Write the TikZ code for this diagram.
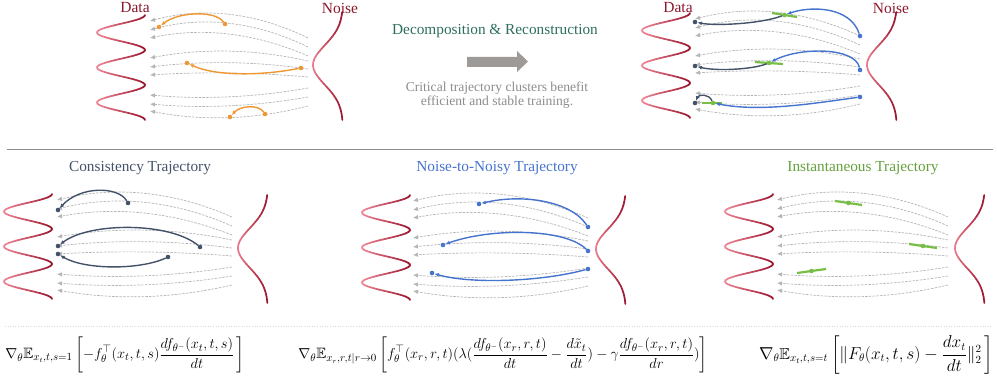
\documentclass[tikz,border=0pt]{standalone}
\usepackage{amsmath,amssymb}
\usepackage[no-math]{fontspec}
\setmainfont{Liberation Serif}
\usetikzlibrary{positioning,arrows.meta,calc}

\definecolor{wavedark}{RGB}{155,20,45}
\definecolor{wavelight}{RGB}{240,135,150}
\definecolor{datared}{RGB}{140,25,45}
\definecolor{orangetr}{RGB}{240,150,50}
\definecolor{slatetr}{RGB}{68,82,105}
\definecolor{bluetr}{RGB}{70,115,205}
\definecolor{greentr}{RGB}{120,190,70}
\definecolor{greentitle}{RGB}{100,160,60}
\definecolor{tealtitle}{RGB}{45,110,95}
\definecolor{flowgray}{RGB}{180,180,180}
\definecolor{arrowgray}{RGB}{158,154,152}

\tikzset{
  wave/.style={line width=1.7pt, line cap=round},
  flow/.style={flowgray, line width=0.7pt, dash pattern=on 2.5pt off 1.2pt, -{Latex[length=5pt,width=4.5pt]}},
  traj/.style={line width=1.4pt, -{Latex[length=4.5pt,width=4pt]}},
  gseg/.style={greentr, line width=2.2pt},
  dot/.style={circle, fill=#1, inner sep=0pt, minimum size=4.6pt},
  lab/.style={datared, font=\fontsize{15.5}{18}\selectfont},
  head/.style={font=\fontsize{15.3}{18}\selectfont},
  note/.style={black!45, align=center, font=\fontsize{13.6}{14}\selectfont},
  formula/.style={font=\fontsize{15}{17}\selectfont}
}

% data wave: #1 left x, #2 top y
\newcommand{\datawave}[2]{%
  \foreach \ta in {0,12,...,1068}{%
    \pgfmathsetmacro{\tb}{\ta+12}%
    \pgfmathtruncatemacro{\pc}{50+50*cos(\ta+6)}%
    \draw[wave, wavedark!\pc!wavelight] ({#1+24+24*cos(\ta)},{#2+\ta/1080*105}) -- ({#1+24+24*cos(\tb)},{#2+\tb/1080*105});
  }}

% noise bump: #1 right x, #2 top y
\newcommand{\noisebump}[2]{%
  \foreach \ta in {0,3,...,105}{%
    \pgfmathsetmacro{\tb}{\ta+3}%
    \pgfmathtruncatemacro{\pc}{100-90*exp(0-((\ta+1.5-53)/28)^2)}%
    \draw[wave, wavedark!\pc!wavelight] ({#1-30*exp(0-((\ta-53)/28)^2)},{#2+\ta}) -- ({#1-30*exp(0-((\tb-53)/28)^2)},{#2+\tb});
  }}

% gray flows: #1 left x, #2 top y, #3 width
\newcommand{\grayflows}[3]{%
  \foreach \yl/\yr/\hh in {6/23/20, 15/32/20, 23/41/17, 43/46/11, 52/54/7, 60/62/4, 80/73/-7, 89/82/-7, 96/91/-12}{%
    \draw[flow] ({#1+#3},{#2+\yr}) .. controls ({#1+2*#3/3},{#2+\yl+2*(\yr-\yl)/3-(\hh)}) and ({#1+#3/3},{#2+\yl+(\yr-\yl)/3-(\hh)}) .. ({#1},{#2+\yl});
  }}

\begin{document}
\begin{tikzpicture}[x=1pt, y=-1pt]
\useasboundingbox (0,0) rectangle (997,385);

% panels
\datawave{97}{15}   \grayflows{150}{15}{158} \noisebump{343}{12}
\datawave{642}{13}  \grayflows{695}{13}{165} \noisebump{897}{12}
\datawave{4}{194}   \grayflows{57}{194}{175} \noisebump{268}{195}
\datawave{362}{195} \grayflows{413}{195}{175} \noisebump{626}{196}
\datawave{725}{194} \grayflows{777}{194}{171} \noisebump{985}{195}

% labels
\node[lab] (dataL) at (135,8) {Data};
\node[lab] (noiseL) at (340,8) {Noise};
\node[lab] (dataR) at (678,8) {Data};
\node[lab] (noiseR) at (891,8) {Noise};
\node[head, tealtitle] (decomp) at (495,31) {Decomposition \& Reconstruction};
\fill[arrowgray] (467,57) -- (517,57) -- (517,51) -- (528,61.5) -- (517,72) -- (517,67) -- (467,67) -- cycle;
\node[note] (critical) at (497,95) {Critical trajectory clusters benefit\\efficient and stable training.};

% separators
\draw[black!45, line width=1.2pt] (7,149.5) -- (993,149.5);
\draw[black!15, line width=0.6pt, dotted] (5,326) -- (992,326);

% top left: orange clusters
\node[dot=orangetr] (o1s) at (225,24) {};
\node[dot=orangetr] (o1e) at (159,27) {};
\node[dot=orangetr] (o2s) at (301,68) {};
\node[dot=orangetr] (o2e) at (187,63) {};
\node[dot=orangetr] (o3s) at (265,114) {};
\node[dot=orangetr] (o3e) at (230,117) {};
\draw[traj, orangetr] (o1s) .. controls (215,10) and (178,12) .. (o1e);
\draw[traj, orangetr] (o2s) .. controls (260,76) and (215,76) .. (o2e);
\draw[traj, orangetr] (o3s) .. controls (258,104) and (240,106) .. (o3e);

% top right: decomposed clusters
\coordinate (r1a) at (772,13); \coordinate (r1b) at (797,17);
\coordinate (r2a) at (755,62); \coordinate (r2b) at (783,64);
\coordinate (r3a) at (702,103); \coordinate (r3b) at (722,103);
\draw[gseg] (r1a) -- (r1b);
\draw[gseg] (r2a) -- (r2b);
\draw[gseg] (r3a) -- (r3b);
\node[dot=greentr] (r1m) at ($(r1a)!0.5!(r1b)$) {};
\node[dot=greentr] (r2m) at ($(r2a)!0.5!(r2b)$) {};
\node[dot=greentr] (r3m) at ($(r3a)!0.55!(r3b)$) {};
\node[dot=bluetr] (r1s) at (860,36) {};
\node[dot=bluetr] (r2s) at (860,70) {};
\node[dot=bluetr] (r3s) at (860,97) {};
\node[dot=slatetr] (r1e) at (695,22) {};
\node[dot=slatetr] (r2e) at (695,66) {};
\node[dot=slatetr] (r3e) at (695,103) {};
\draw[traj, bluetr] (r1s) .. controls (850,6) and (810,6) .. (r1m);
\draw[traj, bluetr] (r2s) .. controls (855,47) and (800,47) .. (r2m);
\draw[traj, bluetr] (r3s) .. controls (810,104) and (760,112) .. (r3m);
\draw[traj, slatetr] (r1m) .. controls (760,24) and (715,26) .. (r1e);
\draw[traj, slatetr] (r2m) .. controls (750,70) and (715,71) .. (r2e);
\draw[traj, slatetr] (r3m) .. controls (709,94) and (699,94) .. (r3e);

% bottom titles
\node[head, slatetr] (consT) at (140,168) {Consistency Trajectory};
\node[head, bluetr] (n2nT) at (497,168) {Noise-to-Noisy Trajectory};
\node[head, greentitle] (instT) at (863,168) {Instantaneous Trajectory};

% consistency
\node[dot=slatetr] (c1s) at (128,203) {};
\node[dot=slatetr] (c1e) at (58,210) {};
\node[dot=slatetr] (c2s) at (200,247) {};
\node[dot=slatetr] (c2e) at (58,246) {};
\node[dot=slatetr] (c3s) at (168,257) {};
\node[dot=slatetr] (c3e) at (58,254) {};
\draw[traj, slatetr] (c1s) .. controls (118,186) and (80,186) .. (c1e);
\draw[traj, slatetr] (c2s) .. controls (170,222) and (90,222) .. (c2e);
\draw[traj, slatetr] (c3s) .. controls (140,270) and (85,270) .. (c3e);

% noise-to-noisy
\node[dot=bluetr] (n1s) at (588,227) {};
\node[dot=bluetr] (n1e) at (479,204) {};
\node[dot=bluetr] (n2s) at (588,251) {};
\node[dot=bluetr] (n2e) at (443,245) {};
\node[dot=bluetr] (n3s) at (588,269) {};
\node[dot=bluetr] (n3e) at (432,273) {};
\draw[traj, bluetr] (n1s) .. controls (570,200) and (520,194) .. (n1e);
\draw[traj, bluetr] (n2s) .. controls (565,228) and (490,228) .. (n2e);
\draw[traj, bluetr] (n3s) .. controls (540,282) and (470,284) .. (n3e);

% instantaneous
\coordinate (i1a) at (835,201); \coordinate (i1b) at (862,205);
\coordinate (i2a) at (909,244); \coordinate (i2b) at (937,248);
\coordinate (i3a) at (797,273); \coordinate (i3b) at (826,269);
\draw[gseg] (i1a) -- (i1b);
\draw[gseg] (i2a) -- (i2b);
\draw[gseg] (i3a) -- (i3b);
\node[dot=greentr] (i1m) at ($(i1a)!0.5!(i1b)$) {};
\node[dot=greentr] (i2m) at ($(i2a)!0.5!(i2b)$) {};
\node[dot=greentr] (i3m) at ($(i3a)!0.5!(i3b)$) {};

% objectives
\node[formula] (lossC) at (125,355) {$\displaystyle \nabla_\theta \mathbb{E}_{x_t,t,s=1}\left[-f_\theta^\top(x_t,t,s)\frac{df_{\theta^-}(x_t,t,s)}{dt}\,\right]$};
\node[formula] (lossN) at (503,355) {$\displaystyle \nabla_\theta \mathbb{E}_{x_r,r,t|r\to0}\left[f_\theta^\top(x_r,r,t)(\lambda(\frac{df_{\theta^-}(x_r,r,t)}{dt}-\frac{d\tilde{x}_t}{dt})-\gamma\frac{df_{\theta^-}(x_r,r,t)}{dr})\right]$};
\node[formula, font=\fontsize{16}{18}\selectfont] (lossI) at (876,355) {$\displaystyle \nabla_\theta \mathbb{E}_{x_t,t,s=t}\left[\|F_\theta(x_t,t,s)-\frac{dx_t}{dt}\|_2^2\,\right]$};
\end{tikzpicture}
\end{document}
